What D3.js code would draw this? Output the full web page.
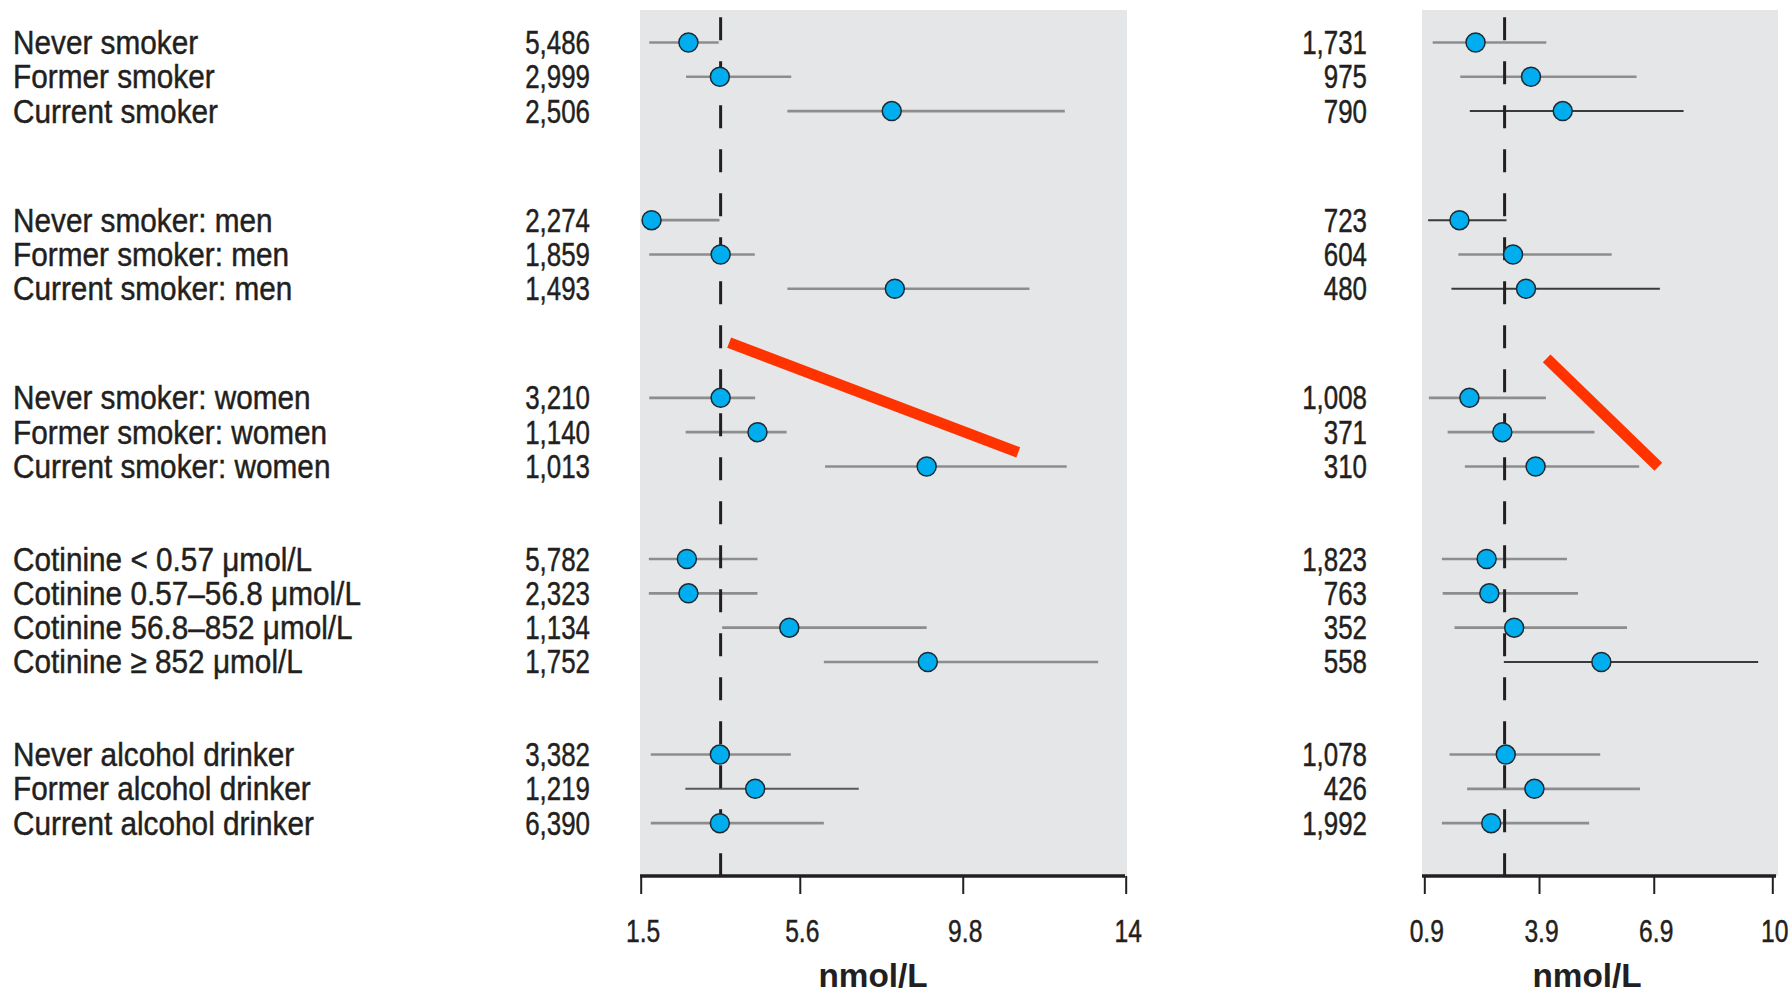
<!doctype html>
<html>
<head>
<meta charset="utf-8">
<title>Forest plot, nmol/L</title>
<script src="https://cdn.jsdelivr.net/npm/d3@7"></script>
<style>
  body { margin: 0; background: #fff; }
  text { font-family: "Liberation Sans", Arial, sans-serif; fill: #231f20; }
  .lab { stroke: #231f20; stroke-width: 0.45px; }
</style>
</head>
<body>
<svg id="chart" width="1790" height="995"></svg>
<script>
// ---- data ----
const labels = [
  "Never smoker", "Former smoker", "Current smoker",
  "Never smoker: men", "Former smoker: men", "Current smoker: men",
  "Never smoker: women", "Former smoker: women", "Current smoker: women",
  "Cotinine < 0.57 \u03bcmol/L", "Cotinine  0.57\u201356.8 \u03bcmol/L",
  "Cotinine 56.8\u2013852 \u03bcmol/L", "Cotinine \u2265 852 \u03bcmol/L",
  "Never alcohol drinker", "Former alcohol drinker", "Current alcohol drinker"
];
const groupSizes = [3, 3, 3, 4, 3];

const nLeft = ["5,486", "2,999", "2,506", "2,274", "1,859", "1,493", "3,210", "1,140", "1,013",
               "5,782", "2,323", "1,134", "1,752", "3,382", "1,219", "6,390"];
const estLeft = [2.73, 3.54, 7.97, 1.78, 3.56, 8.05, 3.56, 4.51, 8.87, 2.69, 2.73, 5.33, 8.90, 3.54, 4.45, 3.54];
const lowLeft = [1.72, 2.67, 5.28, 1.55, 1.72, 5.28, 1.72, 2.66, 6.25, 1.71, 1.71, 3.60, 6.22, 1.76, 2.65, 1.76];
const highLeft = [3.51, 5.38, 12.43, 3.53, 4.44, 11.52, 4.45, 5.26, 12.48, 4.51, 4.51, 8.87, 13.29, 5.37, 7.12, 6.22];

const nRight = ["1,731", "975", "790", "723", "604", "480", "1,008", "371", "310",
                "1,823", "763", "352", "558", "1,078", "426", "1,992"];
const estRight = [2.24, 3.69, 4.52, 1.82, 3.22, 3.56, 2.08, 2.94, 3.81, 2.53, 2.60, 3.25, 5.53, 3.03, 3.78, 2.65];
const lowRight = [1.12, 1.84, 2.09, 1.00, 1.79, 1.61, 1.02, 1.51, 1.96, 1.36, 1.38, 1.69, 2.98, 1.56, 2.02, 1.36];
const highRight = [4.09, 6.45, 7.68, 3.05, 5.80, 7.06, 4.08, 5.35, 6.52, 4.63, 4.92, 6.20, 9.63, 5.50, 6.54, 5.21];

const ticksLeft = [1.5, 5.6, 9.8, 14];
const ticksRight = [0.9, 3.9, 6.9, 10];
const refLeft = 3.56;
const refRight = 3.0;
const unitLabel = "nmol/L";

// red annotation strokes: [value, row slot]
const markLeft = [[3.78, 8.75], [11.23, 11.95]];
const markRight = [[4.10, 9.21], [7.02, 12.37]];

// rows whose CI line is printed darker
const darkLeft = [14];
const darkRight = [2, 3, 5, 12];

// ---- layout ----
const groupGaps = [3.18, 3.18, 2.7, 2.7];
const slots = [];
let s = 0;
groupSizes.forEach((n, g) => {
  for (let i = 0; i < n; i++) slots.push(s + i);
  s += n - 1 + (groupGaps[g] || 0);
});

const svg = d3.select("#chart");
const y = d3.scaleLinear().domain([0, 1]).range([42.5, 76.8]);
const plotTop = 10, axisY = 876;

// labels
svg.append("g").selectAll("text").data(labels).join("text")
  .attr("class", "lab")
  .attr("transform", (d, i) => `translate(13,${y(slots[i]) + 11.5}) scale(0.93,1.03)`)
  .style("font-size", "32px")
  .text(d => d);

function panel(cfg) {
  const x = d3.scaleLinear().domain(cfg.domain).range(cfg.range);
  const g = svg.append("g");

  g.append("rect")
    .attr("x", cfg.bg[0]).attr("y", plotTop)
    .attr("width", cfg.bg[1] - cfg.bg[0]).attr("height", axisY - plotTop)
    .attr("fill", "#e5e6e8");

  // n counts
  svg.append("g").selectAll("text").data(cfg.n).join("text")
    .attr("class", "lab")
    .attr("transform", (d, i) => `translate(${cfg.nx},${y(slots[i]) + 11.5}) scale(0.81,1.03)`)
    .attr("text-anchor", "end")
    .style("font-size", "32px")
    .text(d => d);

  // CIs
  g.append("g").selectAll("line").data(cfg.est).join("line")
    .attr("x1", (d, i) => x(cfg.low[i]))
    .attr("x2", (d, i) => x(cfg.high[i]))
    .attr("y1", (d, i) => y(slots[i]))
    .attr("y2", (d, i) => y(slots[i]))
    .attr("stroke", (d, i) => cfg.dark.includes(i) ? cfg.darkColor : "#8d8d8d")
    .attr("stroke-width", (d, i) => cfg.dark.includes(i) ? 2 : 2.6);

  // reference line
  g.append("line")
    .attr("x1", x(cfg.ref)).attr("x2", x(cfg.ref))
    .attr("y1", 17.3).attr("y2", axisY)
    .attr("stroke", "#231f20").attr("stroke-width", 3)
    .attr("stroke-dasharray", "23 21");

  // estimates
  g.append("g").selectAll("circle").data(cfg.est).join("circle")
    .attr("cx", d => x(d))
    .attr("cy", (d, i) => y(slots[i]))
    .attr("r", 9.5)
    .attr("fill", "#00aeef")
    .attr("stroke", "#1c2a33").attr("stroke-width", 1.5);

  // red annotation
  g.append("path")
    .attr("d", d3.line().x(d => x(d[0])).y(d => y(d[1]))(cfg.mark))
    .attr("stroke", "#ff3300").attr("stroke-width", 11).attr("fill", "none");

  // axis
  const ax = g.append("g").attr("transform", `translate(0,${axisY})`)
    .call(d3.axisBottom(x).tickValues(cfg.ticks).tickSize(18).tickFormat(d => String(d)));
  ax.select(".domain").remove();
  ax.selectAll(".tick line").attr("stroke", "#231f20").attr("stroke-width", 2);
  ax.selectAll(".tick text")
    .attr("class", "lab")
    .attr("y", 0).attr("dy", 0)
    .attr("transform", "translate(2,66) scale(0.85,1.05)")
    .style("font-size", "29px").style("font-family", "\"Liberation Sans\", Arial, sans-serif")
    .attr("fill", "#231f20");
  g.append("line")
    .attr("x1", cfg.bg[0]).attr("x2", cfg.bg[1] - 2)
    .attr("y1", axisY).attr("y2", axisY)
    .attr("stroke", "#231f20").attr("stroke-width", 3.5);

  g.append("text")
    .attr("transform", `translate(${cfg.unitX},987) scale(0.98,1)`)
    .attr("text-anchor", "middle")
    .style("font-size", "34px").style("font-weight", "bold")
    .text(unitLabel);
}

panel({
  domain: [1.5, 14], range: [640.7, 1125.7], bg: [640, 1127], nx: 590,
  n: nLeft, est: estLeft, low: lowLeft, high: highLeft, ref: refLeft,
  ticks: ticksLeft, mark: markLeft, dark: darkLeft, darkColor: "#5a5a5a", unitX: 873
});
panel({
  domain: [0.9, 10], range: [1424.3, 1772.3], bg: [1422, 1778], nx: 1367,
  n: nRight, est: estRight, low: lowRight, high: highRight, ref: refRight,
  ticks: ticksRight, mark: markRight, dark: darkRight, darkColor: "#3a3a3a", unitX: 1587
});
</script>
</body>
</html>
